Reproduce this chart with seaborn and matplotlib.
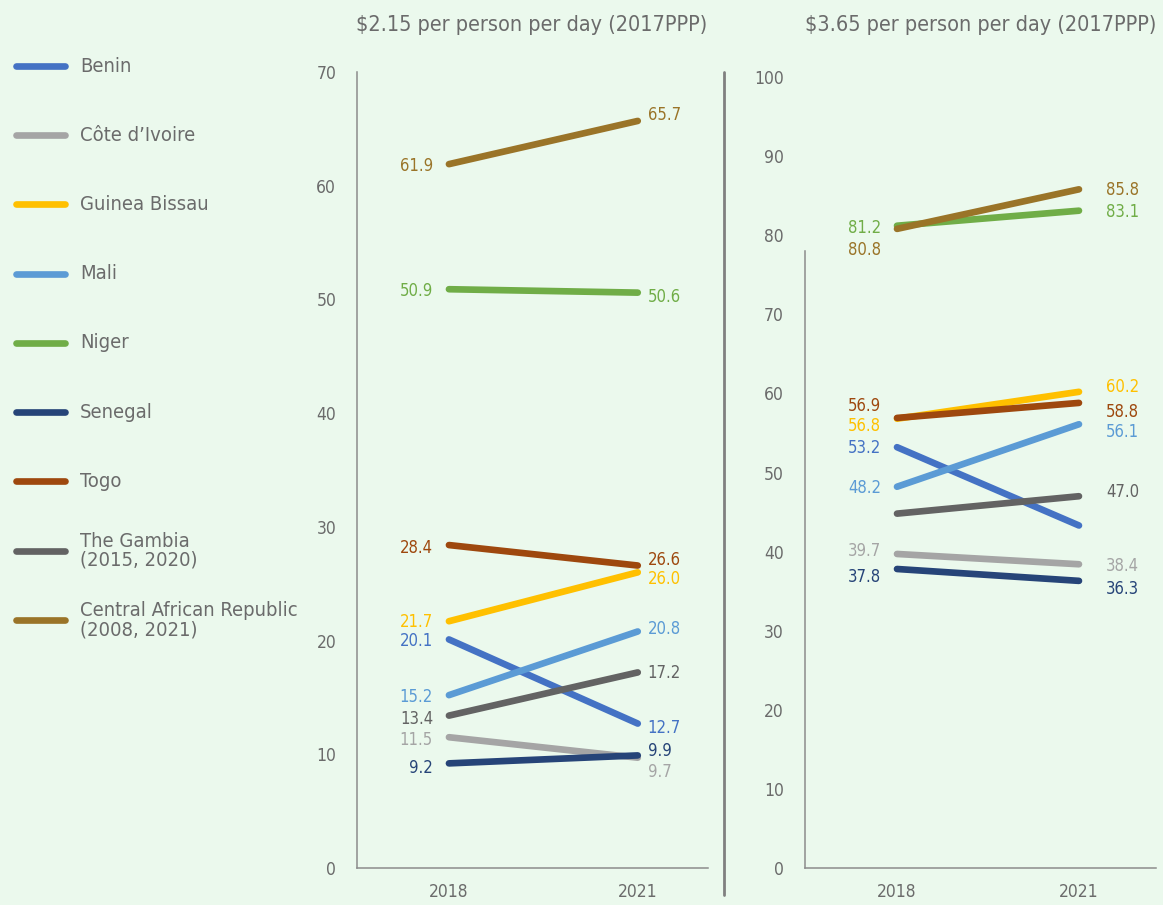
import matplotlib
matplotlib.use("Agg")
import matplotlib.pyplot as plt
import matplotlib.lines as mlines
from matplotlib import font_manager
import pandas as pd
import seaborn as sns

# --- data -----------------------------------------------------------------
countries = ["Benin", "Côte d’Ivoire", "Guinea Bissau", "Mali", "Niger",
             "Senegal", "Togo", "The Gambia", "Central African Republic"]
legend_labels = ["Benin", "Côte d’Ivoire", "Guinea Bissau", "Mali", "Niger",
                 "Senegal", "Togo", "The Gambia\n(2015, 2020)",
                 "Central African Republic\n(2008, 2021)"]
years = [2018, 2021]

pov215_2018 = [20.1, 11.5, 21.7, 15.2, 50.9, 9.2, 28.4, 13.4, 61.9]
pov215_2021 = [12.7, 9.7, 26.0, 20.8, 50.6, 9.9, 26.6, 17.2, 65.7]
pov365_2018 = [53.2, 39.7, 56.8, 48.2, 81.2, 37.8, 56.9, 44.8, 80.8]
pov365_2021 = [43.3, 38.4, 60.2, 56.1, 83.1, 36.3, 58.8, 47.0, 85.8]

# which end points carry a value label in the source
show215_2018 = [True] * 9
show215_2021 = [True] * 9
show365_2018 = [True] * 7 + [False, True]
show365_2021 = [False] + [True] * 8

colors = ["#4472c4", "#a5a5a5", "#ffc000", "#5b9bd5", "#70ad47",
          "#264478", "#9e480e", "#636363", "#9a7428"]

# --- label nudges (pixels, up is positive) --------------------------------
nudge215_2018 = [-2, -3, -1, -2, -2, -5, -3, -3, -2]
nudge215_2021 = [-4, -14, -7, 2, -4, 4, 6, -1, 6]
nudge365_2018 = [-1, 3, -7, -1, -2, -8, 12, 0, -21]
nudge365_2021 = [0, -2, 5, -8, -1, -8, -9, 4, -1]

BG = "#ebf9ed"
TXT = "#6b6b6b"
SPINE = "#8c8c8c"

sns.set_style("white")
names = {f.name for f in font_manager.fontManager.ttflist}
if "Liberation Sans Narrow" in names:
    plt.rcParams["font.family"] = ["Liberation Sans Narrow", "DejaVu Sans"]
else:
    plt.rcParams["font.family"] = ["DejaVu Sans"]
    plt.rcParams["font.stretch"] = "condensed"

palette = dict(zip(countries, colors))


def long_frame(v2018, v2021):
    return pd.DataFrame({
        "country": countries * 2,
        "year": [years[0]] * len(countries) + [years[1]] * len(countries),
        "value": list(v2018) + list(v2021),
    })


def draw_panel(ax, v2018, v2021, s2018, s2021, n2018, n2021, ymax,
               xlim, right_pad):
    sns.lineplot(ax=ax, data=long_frame(v2018, v2021), x="year", y="value",
                 hue="country", hue_order=countries, palette=palette,
                 linewidth=4.8, solid_capstyle="round", legend=False)
    for i, c in enumerate(countries):
        if s2018[i]:
            ax.annotate(f"{v2018[i]:.1f}", xy=(years[0], v2018[i]),
                        xytext=(-16, n2018[i]), textcoords="offset pixels",
                        ha="right", va="center", fontsize=12,
                        color=colors[i])
        if s2021[i]:
            ax.annotate(f"{v2021[i]:.1f}", xy=(years[1], v2021[i]),
                        xytext=(right_pad, n2021[i]), textcoords="offset pixels",
                        ha="left", va="center", fontsize=12,
                        color=colors[i])
    ax.set_facecolor(BG)
    ax.set_xlim(*xlim)
    ax.set_ylim(0, ymax)
    ax.set_xticks(years)
    ax.set_xticklabels([str(y) for y in years])
    ax.set_yticks(range(0, ymax + 1, 10))
    ax.tick_params(axis="both", length=0, labelsize=12.5, labelcolor=TXT)
    ax.tick_params(axis="y", pad=15)
    ax.tick_params(axis="x", pad=11)
    ax.set_xlabel("")
    ax.set_ylabel("")
    for side in ("top", "right"):
        ax.spines[side].set_visible(False)
    for side in ("left", "bottom"):
        ax.spines[side].set_color(SPINE)
        ax.spines[side].set_linewidth(1.1)


fig = plt.figure(figsize=(11.63, 9.05), dpi=100, facecolor=BG)

ax_l = fig.add_axes([0.307, 0.0409, 0.302, 0.8795])
ax_r = fig.add_axes([0.692, 0.0409, 0.302, 0.874])

draw_panel(ax_l, pov215_2018, pov215_2021, show215_2018, show215_2021,
           nudge215_2018, nudge215_2021, 70, (2016.54, 2022.12), 10)
draw_panel(ax_r, pov365_2018, pov365_2021, show365_2018, show365_2021,
           nudge365_2018, nudge365_2021, 100, (2016.48, 2022.27), 27)
ax_r.spines["left"].set_bounds(0, 78)

fig.text(0.4575, 0.972, "$2.15 per person per day (2017PPP)", ha="center",
         va="center", fontsize=15.5, color=TXT)
fig.text(0.994, 0.972, "$3.65 per person per day (2017PPP)", ha="right",
         va="center", fontsize=15.5, color=TXT)

# divider between the two panels
fig.add_artist(mlines.Line2D([724 / 1163, 724 / 1163], [1 - 72 / 905, 1 - 895 / 905],
                             transform=fig.transFigure, color="#808080", lw=2))

# legend column on the left, evenly spaced rows
W, H = 1163, 905
row_top, row_step = 66, 69.25
for i, (lab, col) in enumerate(zip(legend_labels, colors)):
    y = 1 - (row_top + i * row_step) / H
    fig.add_artist(mlines.Line2D([16 / W, 65 / W], [y, y], transform=fig.transFigure,
                                 color=col, lw=4.8, solid_capstyle="round"))
    fig.text(80 / W, y, lab, ha="left", va="center", fontsize=14.5,
             color=TXT, linespacing=1.0)

fig.savefig("out.png", dpi=100, facecolor=BG)
